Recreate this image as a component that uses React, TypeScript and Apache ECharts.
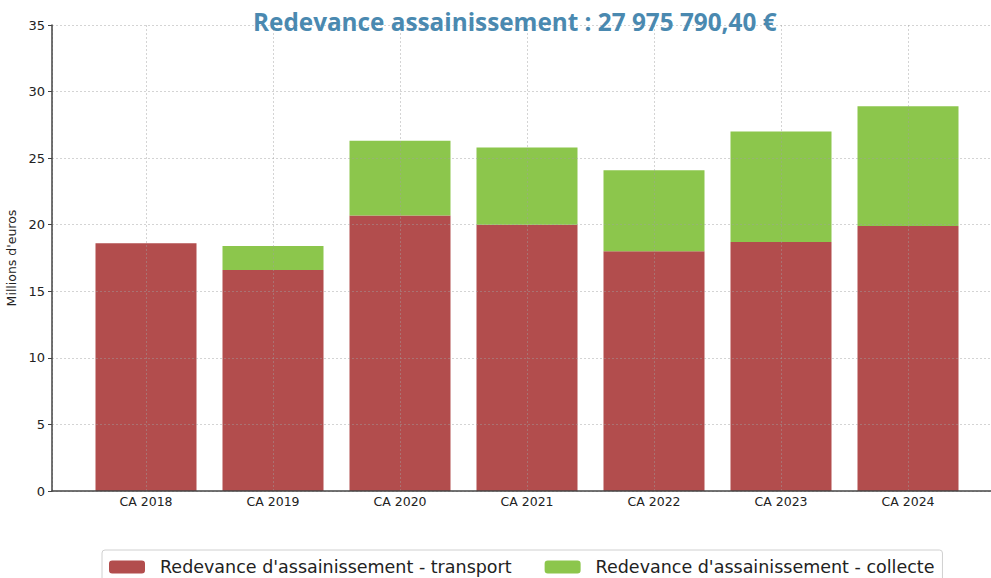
import React, { useEffect, useRef } from "react";
import * as echarts from "echarts";

const categories = ["CA 2018", "CA 2019", "CA 2020", "CA 2021", "CA 2022", "CA 2023", "CA 2024"];
const transport = [18.6, 16.6, 20.7, 20.0, 18.0, 18.7, 19.9];
const collecte = [0, 1.8, 5.6, 5.8, 6.1, 8.3, 9.0];
const titleText = "Redevance assainissement : 27 975 790,40 €";
const seriesNames = ["Redevance d'assainissement - transport", "Redevance d'assainissement - collecte"];

export default function App() {
  const ref = useRef<HTMLDivElement>(null);
  useEffect(() => {
    if (!ref.current) return;
    const chart = echarts.init(ref.current, undefined, { renderer: "svg" });
    const gridColor = "rgba(160,160,160,0.45)";
    chart.setOption({
      animation: false,
      backgroundColor: "#ffffff",
      title: {
        text: titleText,
        left: 248,
        top: 4,
        textStyle: { fontFamily: "Open Sans", fontWeight: "bold", fontSize: 24.3, color: "#4a89b0" },
      },
      legend: {
        left: 102,
        top: 550,
        itemWidth: 36,
        itemHeight: 13,
        itemGap: 33,
        padding: [8, 8, 10, 7],
        borderColor: "#d0d0d0",
        borderWidth: 1,
        borderRadius: 3,
        textStyle: { fontFamily: "DejaVu Sans", fontSize: 17.5, color: "#222", padding: [0, 0, 0, 10] },
        data: seriesNames,
      },
      grid: [
        { left: 52, top: 25, bottom: 87, right: -11, containLabel: false, outerBoundsMode: "none" },
        { left: 82.5, top: 25, bottom: 87, width: 889, containLabel: false, outerBoundsMode: "none" },
      ],
      xAxis: [
        {
          type: "value",
          gridIndex: 0,
          min: -0.74,
          max: 6.74,
          splitNumber: 7,
          minInterval: 1,
          maxInterval: 1,
          z: 5,
          axisLine: { onZero: false, lineStyle: { color: "#444", width: 1.5 } },
          axisTick: { show: false },
          axisLabel: { show: false },
          splitLine: { show: true, lineStyle: { color: gridColor, type: [2, 2], width: 1 } },
        },
        {
          type: "category",
          gridIndex: 1,
          data: categories,
          axisLine: { show: false },
          axisTick: { show: false },
          axisLabel: { fontFamily: "DejaVu Sans", fontSize: 12.5, color: "#222", margin: 4 },
          splitLine: { show: false },
        },
      ],
      yAxis: [
        {
          type: "value",
          gridIndex: 0,
          min: 0,
          max: 35,
          interval: 5,
          z: 5,
          name: "Millions d'euros",
          nameLocation: "middle",
          nameGap: 29,
          nameTextStyle: { fontFamily: "DejaVu Sans", fontSize: 12.5, color: "#222" },
          axisLine: { show: true, onZero: false, lineStyle: { color: "#444", width: 1.5 } },
          axisTick: { show: true, length: 4, lineStyle: { color: "#444" } },
          axisLabel: { fontFamily: "DejaVu Sans", fontSize: 13, color: "#222", margin: 7 },
          splitLine: { show: true, lineStyle: { color: gridColor, type: [2, 2], width: 1 } },
        },
        {
          type: "value",
          gridIndex: 1,
          min: 0,
          max: 35,
          interval: 5,
          show: false,
          splitLine: { show: false },
        },
      ],
      series: [
        {
          name: seriesNames[0],
          type: "bar",
          stack: "total",
          xAxisIndex: 1,
          yAxisIndex: 1,
          data: transport,
          barWidth: 101,
          itemStyle: { color: "#b24d4d" },
        },
        {
          name: seriesNames[1],
          type: "bar",
          stack: "total",
          xAxisIndex: 1,
          yAxisIndex: 1,
          data: collecte,
          barWidth: 101,
          itemStyle: { color: "#8cc64c" },
        },
      ],
    });
    return () => chart.dispose();
  }, []);
  return <div ref={ref} style={{ position: "fixed", left: 0, top: 0, width: 991, height: 578 }} />;
}
